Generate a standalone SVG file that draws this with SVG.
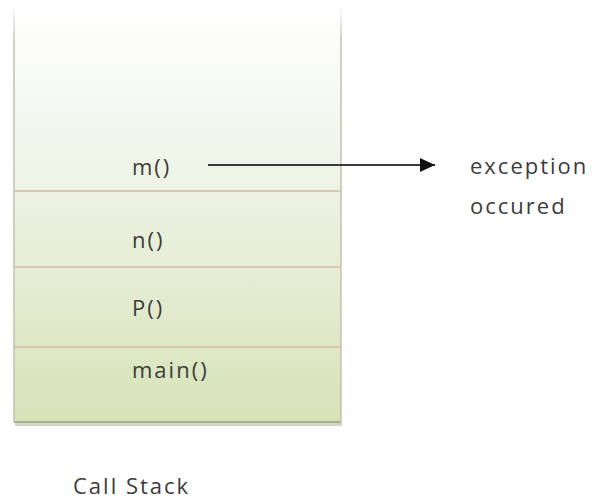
<svg xmlns="http://www.w3.org/2000/svg" width="594" height="500" viewBox="0 0 594 500">
<style>
.t{font-family:"Open Sans","Liberation Sans",sans-serif;font-size:22px;letter-spacing:2px;fill:#3c3c3c}
.div{stroke:#d8b9a6;stroke-width:1.5}
</style>
<defs>
<linearGradient id="g" x1="0" y1="0" x2="0" y2="1">
<stop offset="0" stop-color="#ffffff"/>
<stop offset="0.35" stop-color="#f1f5ea"/>
<stop offset="1" stop-color="#d6e3b8"/>
</linearGradient>
<linearGradient id="gs" gradientUnits="userSpaceOnUse" x1="0" y1="6" x2="0" y2="40">
<stop offset="0" stop-color="#c4c0b0" stop-opacity="0"/>
<stop offset="1" stop-color="#c4c0b0"/>
</linearGradient>
<marker id="ah" markerWidth="16" markerHeight="14" refX="15" refY="7" orient="auto" markerUnits="userSpaceOnUse">
<path d="M0,0 L15,7 L0,14 Z" fill="#111"/>
</marker>
</defs>
<g id="stack">
<rect x="15" y="423" width="327" height="3" fill="#b6b9a0" opacity="0.6"/>
<rect x="14" y="8" width="327" height="415" fill="url(#g)"/>
<line x1="14" y1="422" x2="341" y2="422" stroke="#a9ae90" stroke-width="2"/>
<path d="M14,6 V423 M341,6 V423" stroke="url(#gs)" stroke-width="1.5" fill="none"/>
</g>
<g id="frame-m">
<text class="t" x="132" y="175">m()</text>
<line class="div" x1="14" y1="191" x2="341" y2="191"/>
</g>
<g id="frame-n">
<text class="t" x="132" y="248">n()</text>
<line class="div" x1="14" y1="267" x2="341" y2="267"/>
</g>
<g id="frame-p">
<text class="t" x="132" y="316">P()</text>
<line class="div" x1="14" y1="347" x2="341" y2="347"/>
</g>
<g id="frame-main">
<text class="t" x="132" y="378">main()</text>
</g>
<g id="connectors">
<line x1="208" y1="165" x2="435" y2="165" stroke="#3a3a3a" stroke-width="2" marker-end="url(#ah)"/>
</g>
<g id="exception">
<text class="t" x="470" y="174">exception</text>
<text class="t" x="470" y="214">occured</text>
</g>
<g id="label">
<text class="t" x="73" y="494">Call Stack</text>
</g>
</svg>
